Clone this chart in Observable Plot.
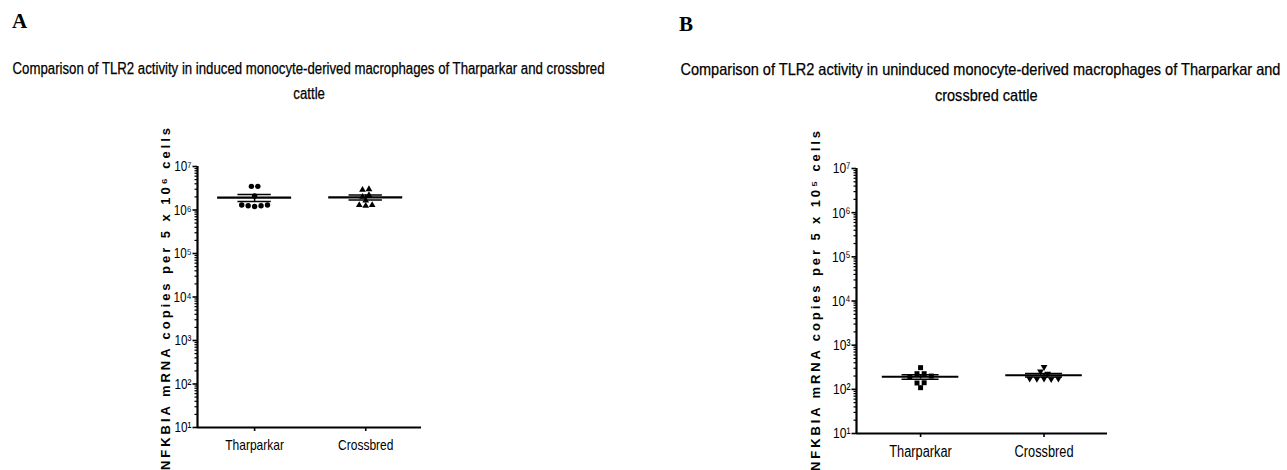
<!DOCTYPE html>
<html><head><meta charset="utf-8">
<script src="https://cdn.jsdelivr.net/npm/d3@7"></script>
<script src="https://cdn.jsdelivr.net/npm/@observablehq/plot@0.6"></script>
<style>
body{margin:0;background:#fff;width:1287px;height:470px;position:relative;overflow:hidden;}
.letter{position:absolute;font-family:"Liberation Serif","Times New Roman",serif;font-weight:bold;font-size:21px;color:#000;}
.title{position:absolute;width:1000px;font-family:"Liberation Sans",Arial,sans-serif;text-align:center;color:#000;white-space:nowrap;line-height:1;-webkit-text-stroke:0.25px #000;}
.title span{display:inline-block;transform-origin:50% 50%;}
.chart{position:absolute;}
</style></head><body>
<div class="letter" style="left:12px;top:9px">A</div>
<div class="letter" style="left:679px;top:12px">B</div>
<div class="title" data-panel="A" data-target="592" style="left:-191px;top:61px;font-size:16px"><span>Comparison of TLR2 activity in induced monocyte-derived macrophages of Tharparkar and crossbred</span></div>
<div class="title" data-panel="A" style="left:-191px;top:86px;font-size:16px"><span>cattle</span></div>
<div class="title" data-panel="B" data-target="600" style="left:480px;top:61px;font-size:16.5px"><span>Comparison of TLR2 activity in uninduced monocyte-derived macrophages of Tharparkar and</span></div>
<div class="title" data-panel="B" style="left:486px;top:87px;font-size:16.5px"><span>crossbred cattle</span></div>
<div id="chartA" class="chart" style="left:0px;top:100px"></div>
<div id="chartB" class="chart" style="left:640px;top:100px"></div>
<script>
// ---- data ----
const categories = ["Tharparkar", "Crossbred"];
const inducedTharparkar = [3.5e6, 3.5e6, 2.1e6, 1.3e6, 1.25e6, 1.2e6, 1.25e6, 1.3e6];
const inducedCrossbred = [2.9e6, 3.0e6, 2.0e6, 1.3e6, 1.25e6, 1.3e6, 1.65e6, 2.2e6];
const uninducedTharparkar = [190, 226, 310, 139, 109, 226, 141, 200];
const uninducedCrossbred = [320, 175, 172, 175, 170, 175, 255, 225];
const yTicks = [1e1, 1e2, 1e3, 1e4, 1e5, 1e6, 1e7];
const yLabelA = "NFKBIA mRNA copies per 5 x 10\u2076 cells";
const yLabelB = "NFKBIA mRNA copies per 5 x 10\u2075 cells";

// ---- titles: condense horizontally to the reference width ----
const scales = {};
document.querySelectorAll(".title[data-target]").forEach(el => {
  const sp = el.querySelector("span");
  scales[el.dataset.panel] = +el.dataset.target / sp.getBoundingClientRect().width;
});
document.querySelectorAll(".title").forEach(el => {
  el.querySelector("span").style.transform = `scaleX(${scales[el.dataset.panel]})`;
});

// ---- helpers ----
const FONT = '"Liberation Sans",Arial,sans-serif';
const SUP = {"0":"\u2070","1":"\u00b9","2":"\u00b2","3":"\u00b3","4":"\u2074","5":"\u2075","6":"\u2076","7":"\u2077","8":"\u2078","9":"\u2079"};
const supFmt = d => "10" + String(Math.round(Math.log10(d))).split("").map(c => SUP[c]).join("");
const minorTicks = [];
for (let e = 1; e < 7; e++) for (let m = 2; m < 10; m++) minorTicks.push(m * 10 ** e);

const triangleDown = {
  draw(context, size) {
    const flip = {moveTo: (x, y) => context.moveTo(x, -y), lineTo: (x, y) => context.lineTo(x, -y), closePath: () => context.closePath()};
    d3.symbolTriangle.draw(flip, size);
  }
};

function swarm(vals, spacing, thr) {
  const order = d3.range(vals.length).sort((a, b) => vals[b] - vals[a]);
  const rows = [];
  for (const i of order) {
    const lv = Math.log10(vals[i]);
    const row = rows.find(r => Math.abs(r.lv - lv) < thr);
    if (row) row.items.push(i); else rows.push({lv, items: [i]});
  }
  const off = new Array(vals.length).fill(0);
  for (const r of rows) r.items.sort((a, b) => a - b).forEach((i, k) => off[i] = (k - (r.items.length - 1) / 2) * spacing);
  return off;
}

function panel(series, symbols, rs, ylabel, L) {
  const rows = [], stats = [];
  series.forEach((vals, gi) => {
    const idx = gi + 1;
    const off = swarm(vals, L.spacing, 0.08);
    vals.forEach((v, j) => rows.push({group: categories[gi], idx, value: v, off: off[j]}));
    const mean = d3.mean(vals), sem = d3.deviation(vals) / Math.sqrt(vals.length);
    stats.push({idx, mean, lo: mean - sem, hi: mean + sem});
  });
  const dotMarks = series.map((_, gi) => Plot.dot(rows.filter(d => d.idx === gi + 1), {
    x: d => d.idx + d.off, y: "value", symbol: symbols[gi], r: rs[gi], fill: "#000", stroke: "none"
  }));
  return Plot.plot({
    width: L.width, height: L.height,
    marginLeft: L.ml, marginRight: L.mr, marginTop: L.mt, marginBottom: L.mb,
    style: {background: "transparent", color: "#000", overflow: "visible"},
    x: {type: "linear", domain: L.xdom},
    y: {type: "log", domain: [10, 1e7]},
    marks: [
      Plot.axisY({ticks: minorTicks, tickSize: 2.5, tickFormat: () => "", label: null, strokeWidth: 1.2}),
      Plot.axisY({ticks: yTicks, tickSize: 4.5, tickPadding: 1.5, tickFormat: supFmt, label: null, fontSize: L.tickFont, fontFamily: FONT, strokeWidth: 1.6}),
      Plot.axisX({ticks: [1, 2], tickSize: 4, tickPadding: 8, tickFormat: i => categories[i - 1], label: null, fontSize: L.catFont, fontFamily: FONT, strokeWidth: 1.6}),
      Plot.ruleX([L.xdom[0]], {strokeWidth: 2.2}),
      Plot.ruleY([10], {strokeWidth: 2.2}),
      Plot.ruleX(stats, {x: "idx", y1: "lo", y2: "hi", strokeWidth: 1.5}),
      Plot.ruleY(stats, {y: "lo", x1: d => d.idx - 0.15, x2: d => d.idx + 0.15, strokeWidth: 1.5}),
      Plot.ruleY(stats, {y: "hi", x1: d => d.idx - 0.15, x2: d => d.idx + 0.15, strokeWidth: 1.5}),
      ...dotMarks,
      Plot.ruleY(stats, {y: "mean", x1: d => d.idx - L.meanHalf, x2: d => d.idx + L.meanHalf, strokeWidth: 2.2}),
      Plot.text([ylabel], {text: d => d, frameAnchor: "left", textAnchor: "middle", rotate: -90, dx: L.labelDx, dy: L.labelDy, fontWeight: "bold", fontSize: 13, fontFamily: FONT, ariaLabel: () => "ylabel"})
    ]
  });
}

function condense(svg, selector, factor) {
  svg.querySelectorAll(selector).forEach(t => {
    const w = t.getComputedTextLength();
    t.setAttribute("textLength", (w * factor).toFixed(2));
    t.setAttribute("lengthAdjust", "spacingAndGlyphs");
  });
}
function stretchLabel(svg, length) {
  svg.querySelectorAll('text[aria-label="ylabel"], g[aria-label="ylabel"] text').forEach(t => {
    t.setAttribute("textLength", length);
    t.setAttribute("lengthAdjust", "spacing");
  });
}

const svgA = panel(
  [inducedTharparkar, inducedCrossbred], ["circle", "triangle"], [2.7, 2.5], yLabelA,
  {width: 440, height: 370, ml: 197, mr: 19, mt: 66, mb: 43, xdom: [0.486, 2.502], spacing: 0.058, meanHalf: 0.333, tickFont: 15, catFont: 15, labelDx: -32, labelDy: 2}
);
document.getElementById("chartA").append(svgA);
condense(svgA, 'g[aria-label="y-axis tick label"] text', 0.78);
condense(svgA, 'g[aria-label="x-axis tick label"] text', 0.8);
stretchLabel(svgA, 342);

const svgB = panel(
  [uninducedTharparkar, uninducedCrossbred], ["square", triangleDown], [2.8, 2.5], yLabelB,
  {width: 480, height: 370, ml: 216, mr: 13, mt: 68, mb: 37, xdom: [0.481, 2.514], spacing: 0.058, meanHalf: 0.31, tickFont: 15.5, catFont: 16, labelDx: -41, labelDy: 0}
);
document.getElementById("chartB").append(svgB);
condense(svgB, 'g[aria-label="y-axis tick label"] text', 0.78);
condense(svgB, 'g[aria-label="x-axis tick label"] text', 0.8);
stretchLabel(svgB, 340);
</script>
</body></html>
